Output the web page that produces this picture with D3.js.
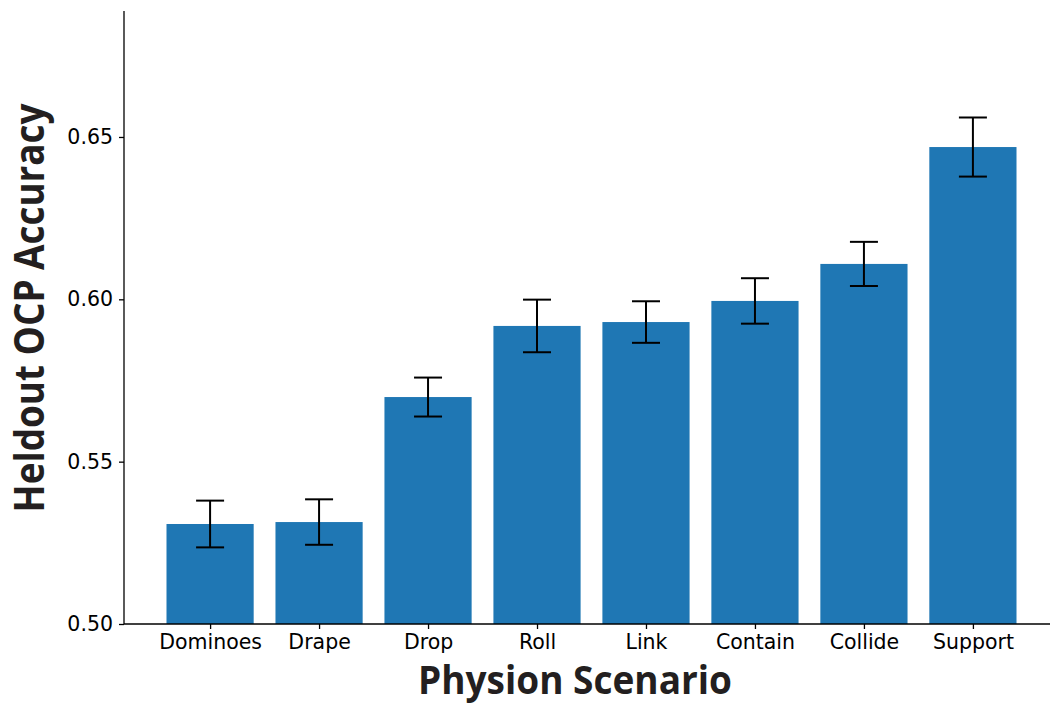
<!DOCTYPE html>
<html>
<head>
<meta charset="utf-8">
<script src="https://cdn.jsdelivr.net/npm/d3@7"></script>
<style>
  html, body { margin: 0; padding: 0; background: #fff; }
  svg { display: block; }
</style>
</head>
<body>
<svg id="chart" width="1050" height="704"></svg>
<script>
// Heldout OCP accuracy per Physion scenario, with error bars
const scenarios = ["Dominoes", "Drape", "Drop", "Roll", "Link", "Contain", "Collide", "Support"];
const accuracy  = [0.5308, 0.5314, 0.5699, 0.5918, 0.5930, 0.5995, 0.6109, 0.6469];
const errors    = [0.0072, 0.0070, 0.0060, 0.0081, 0.0064, 0.0070, 0.0068, 0.0091];
const yTicks    = [0.50, 0.55, 0.60, 0.65];

const svg = d3.select("#chart");
const plotLeft = 124, plotRight = 1059, plotTop = 11, plotBottom = 624;

// index-based x scale (bars centred on integer positions, width 0.8)
const x = d3.scaleLinear().domain([-0.79, 7.79]).range([plotLeft, plotRight]);
const y = d3.scaleLinear().domain([0.5, 0.6888]).range([plotBottom, plotTop]);
const barW = x(0.8) - x(0);

const data = scenarios.map((s, i) => ({ s, i, v: accuracy[i], e: errors[i] }));

// bars
svg.append("g").selectAll("rect").data(data).join("rect")
  .attr("x", d => x(d.i) - barW / 2)
  .attr("y", d => y(d.v))
  .attr("width", barW)
  .attr("height", d => y(0.5) - y(d.v))
  .attr("fill", "#1f77b4");

// error bars
const capW = 14;
const eg = svg.append("g").attr("stroke", "#000").attr("stroke-width", 2);
eg.selectAll("line.v").data(data).join("line").attr("class", "v")
  .attr("x1", d => x(d.i)).attr("x2", d => x(d.i))
  .attr("y1", d => y(d.v + d.e)).attr("y2", d => y(d.v - d.e));
eg.selectAll("line.t").data(data).join("line").attr("class", "t")
  .attr("x1", d => x(d.i) - capW).attr("x2", d => x(d.i) + capW)
  .attr("y1", d => y(d.v + d.e)).attr("y2", d => y(d.v + d.e));
eg.selectAll("line.b").data(data).join("line").attr("class", "b")
  .attr("x1", d => x(d.i) - capW).attr("x2", d => x(d.i) + capW)
  .attr("y1", d => y(d.v - d.e)).attr("y2", d => y(d.v - d.e));

// axes
const font = "'DejaVu Sans', sans-serif";
const yAxis = d3.axisLeft(y).tickValues(yTicks).tickFormat(d3.format(".2f")).tickSize(5).tickPadding(6);
const gy = svg.append("g").attr("transform", `translate(${plotLeft},0)`).call(yAxis);
gy.select(".domain").attr("d", `M0,${plotTop}V${plotBottom}`).attr("stroke-width", 1.3);
gy.selectAll(".tick line").attr("stroke-width", 1.3);
gy.selectAll(".tick text").attr("font-family", font).attr("font-size", 20.5).attr("fill", "#000");

const xAxis = d3.axisBottom(x).tickValues(d3.range(scenarios.length))
  .tickFormat(i => scenarios[i]).tickSize(5).tickPadding(5);
const gx = svg.append("g").attr("transform", `translate(0,${plotBottom})`).call(xAxis);
gx.select(".domain").attr("d", `M${plotLeft},0H${plotRight}`).attr("stroke-width", 1.3);
gx.selectAll(".tick line").attr("stroke-width", 1.3);
gx.selectAll(".tick text").attr("font-family", font).attr("font-size", 20.5).attr("fill", "#000");

// axis titles
const titleFont = "'Open Sans', 'Lato', sans-serif";
svg.append("text")
  .attr("x", 575).attr("y", 694)
  .attr("text-anchor", "middle")
  .attr("font-family", titleFont).attr("font-weight", 700).attr("font-size", 40)
  .attr("fill", "#231f20")
  .attr("textLength", 314).attr("lengthAdjust", "spacingAndGlyphs")
  .text("Physion Scenario");

svg.append("text")
  .attr("transform", "translate(44,308) rotate(-90)")
  .attr("text-anchor", "middle")
  .attr("font-family", titleFont).attr("font-weight", 700).attr("font-size", 41)
  .attr("fill", "#231f20")
  .attr("textLength", 409).attr("lengthAdjust", "spacingAndGlyphs")
  .text("Heldout OCP Accuracy");
</script>
</body>
</html>
